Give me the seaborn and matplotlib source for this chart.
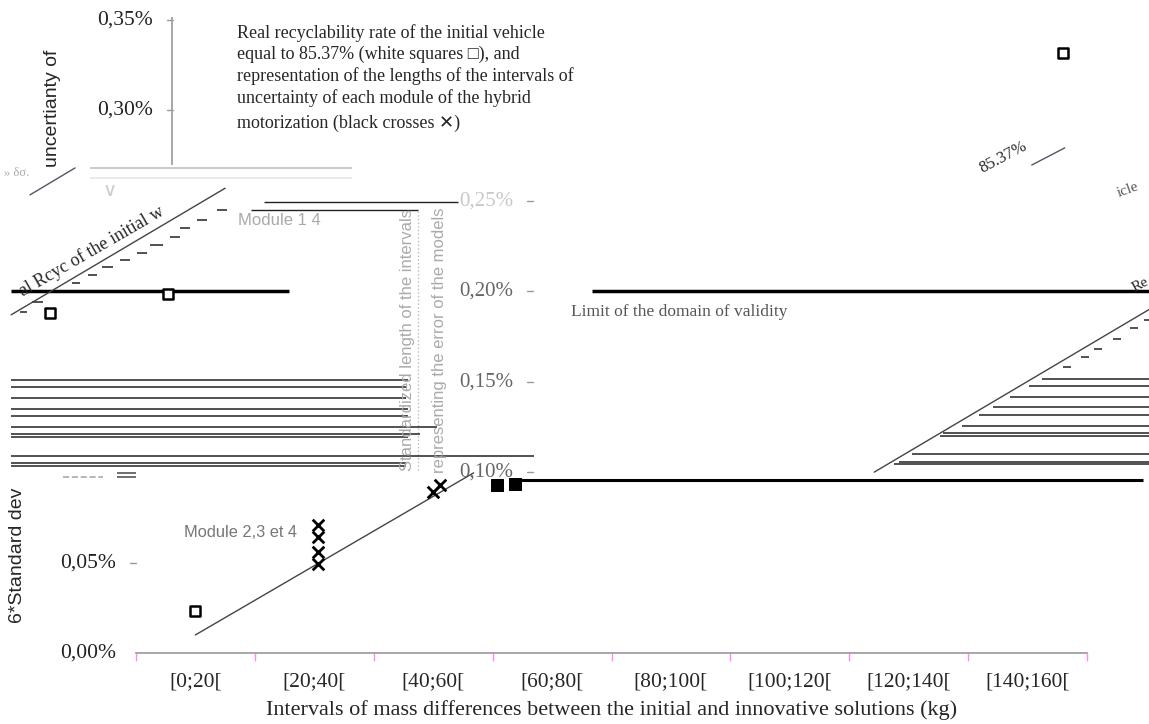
import numpy as np
import pandas as pd
import matplotlib
matplotlib.use("Agg")
import matplotlib.pyplot as plt
import seaborn as sns
from matplotlib.transforms import blended_transform_factory

sns.set_theme(style="white")
plt.rcParams['font.family'] = ['Liberation Serif', 'DejaVu Sans']

# ---- data (y in %) ----
categories = ["[0;20[", "[20;40[", "[40;60[", "[60;80[", "[80;100[",
              "[100;120[", "[120;140[", "[140;160["]
y_ticks = [0.00, 0.05, 0.10, 0.15, 0.20, 0.25, 0.30, 0.35]
y_tick_labels = ["0,00%", "0,05%", "0,10%", "0,15%", "0,20%", "0,25%", "0,30%", "0,35%"]

# white squares (real recyclability 85.37%)
square_x = [0.0, 7.3, -1.22, -0.23]
square_y = [0.0232, 0.332, 0.188, 0.1985]

# black crosses (modules)
cross_x = [1.03, 1.03, 1.03, 1.03, 2.0, 2.06]
cross_y = [0.071, 0.064, 0.056, 0.049, 0.089, 0.093]

# black squares near 0.10%
black_sq_x = [2.54, 2.69]
black_sq_y = [0.0929, 0.0934]

# trend line and the two displaced copies of it
trend_x = [0.0, 2.34]
trend_y = [0.010, 0.0996]
left_diag_x = [-1.55, 0.25]
left_diag_y = [0.187, 0.257]
right_diag_x = [5.71, 8.05]
right_diag_y = [0.100, 0.191]

# limit of the domain of validity
limit_hi = 0.200
limit_lo = 0.0957

# hatch lines of the left block
left_hatch_y = [0.1509, 0.1471, 0.1410, 0.1349, 0.1310, 0.1250, 0.1211, 0.1194, 0.1089, 0.1051, 0.1034]
left_hatch_end = [1.787, 1.770, 1.770, 1.787, 1.787, 2.031, 1.888, 1.787, 2.847, 1.770, 1.770]
# hatch lines of the right block
right_hatch_y = [0.1515, 0.1476, 0.1416, 0.1360, 0.1316, 0.1255, 0.1216, 0.1200, 0.1100, 0.1056, 0.1045]
right_hatch_start = [7.119, 7.010, 6.850, 6.707, 6.590, 6.447, 6.287, 6.262, 6.026, 5.917, 5.875]

# short dashes along the diagonals
left_dash_x0 = [-1.476, -1.375, -1.039, -0.904, -0.786, -0.635, -0.492, -0.383, -0.215, -0.130, 0.013, 0.181]
left_dash_x1 = [-1.417, -1.283, -0.971, -0.828, -0.694, -0.551, -0.408, -0.273, -0.130, -0.046, 0.097, 0.265]
left_dash_y = [0.1886, 0.1941, 0.2046, 0.2090, 0.2134, 0.2173, 0.2212, 0.2256, 0.2300, 0.2350, 0.2394, 0.2449]
right_dash_x0 = [7.296, 7.447, 7.557, 7.717, 7.860, 7.977]
right_dash_x1 = [7.363, 7.514, 7.624, 7.784, 7.927, 8.05]
right_dash_y = [0.1581, 0.1637, 0.1681, 0.1736, 0.1797, 0.1841]

note = ("Real recyclability rate of the initial vehicle\n"
        "equal to 85.37% (white squares \u25a1), and\n"
        "representation of the lengths of the intervals of\n"
        "uncertainty of each module of the hybrid")
note_last = "motorization (black crosses \u2715)"

# ---- figure ----
fig = plt.figure(figsize=(11.49, 7.24), dpi=100)
ax = fig.add_axes([136 / 1149, 71 / 724, 951 / 1149, 633 / 724])
ax.set_xlim(-0.5, 7.5)
ax.set_ylim(0, 0.35)

for s in ["left", "right", "top"]:
    ax.spines[s].set_visible(False)
ax.spines["bottom"].set_color("#a0a0a0")
ax.spines["bottom"].set_linewidth(1.3)

ax.set_xticks(range(len(categories)))
ax.set_xticklabels(categories, fontsize=15.5)
ax.tick_params(axis="x", which="major", length=0, pad=14)
ax.set_xticks(np.arange(-0.5, 8, 1), minor=True)
ax.tick_params(axis="x", which="minor", length=6, color="#ff88ff", width=1, bottom=True)
ax.set_yticks([])
ax.set_xlabel("Intervals of mass differences between the initial and innovative solutions (kg)",
              fontsize=16, labelpad=6)

tr = blended_transform_factory(ax.transAxes, ax.transData)

# y tick labels, split in three displaced groups
groups = {0: (-0.021, -0.0063, "#222"), 1: (-0.021, -0.0063, "#222"),
          2: (0.3964, 0.411, "#666"), 3: (0.3964, 0.411, "#666"),
          4: (0.3964, 0.411, "#666"), 5: (0.3964, 0.411, "#c8c8c8"),
          6: (0.018, 0.0326, "#222"), 7: (0.018, 0.0326, "#222")}
for i, (v, lab) in enumerate(zip(y_ticks, y_tick_labels)):
    xl, xt, c = groups[i]
    fs = 15.5 if c == "#222" else 15
    ax.text(xl, v, lab, transform=tr, ha="right", va="center", fontsize=fs, color=c, clip_on=False)
    if i > 0:
        ax.plot([xt, xt + 0.0065], [v, v], transform=tr, color="#999", lw=1, clip_on=False)

# upper-left axis fragment
ax.vlines(-0.198, 0.2698, 0.3514, color="#a0a0a0", lw=1.3, clip_on=False)
ax.hlines(0.2682, -0.887, 1.316, color="#c0c0c0", lw=1.2, clip_on=False)
ax.hlines(0.2627, -0.887, 1.316, color="#e6e6e6", lw=1.2, clip_on=False)
ax.hlines(0.2494, 0.576, 2.21, color="#222", lw=1.0, clip_on=False)
ax.hlines(0.2449, 0.467, 1.87, color="#222", lw=1.0, clip_on=False)
ax.vlines(1.87, 0.1012, 0.2449, color="#bbbbbb", lw=1.0, linestyles=":", clip_on=False)

# domain of validity limits
ax.hlines(limit_hi, -1.55, 0.786, color="black", lw=2.5, clip_on=False)
ax.hlines(limit_hi, 3.335, 8.05, color="black", lw=2.5, clip_on=False)
ax.hlines(limit_lo, 2.67, 7.97, color="black", lw=2.2, clip_on=False)

# hatching
ax.hlines(left_hatch_y, -1.55, left_hatch_end, color="#333", lw=1.2, clip_on=False)
ax.hlines(right_hatch_y, right_hatch_start, 8.05, color="#333", lw=1.2, clip_on=False)
ax.hlines(left_dash_y, left_dash_x0, left_dash_x1, color="#333", lw=1.2, clip_on=False)
ax.hlines(right_dash_y, right_dash_x0, right_dash_x1, color="#333", lw=1.2, clip_on=False)
ax.hlines([0.0995, 0.0973], -0.66, -0.50, color="#555", lw=1.2, clip_on=False)
ax.hlines(0.0973, -1.11, -0.78, color="#aaa", lw=1.2, linestyles="--", clip_on=False)

# trend lines
sns.lineplot(x=trend_x, y=trend_y, ax=ax, color="#444", lw=1, sort=False, clip_on=False)
sns.lineplot(x=left_diag_x, y=left_diag_y, ax=ax, color="#444", lw=1, sort=False, clip_on=False)
sns.lineplot(x=right_diag_x, y=right_diag_y, ax=ax, color="#444", lw=1, sort=False, clip_on=False)
sns.lineplot(x=[-1.392, -1.013], y=[0.2533, 0.2682], ax=ax, color="#556", lw=1, clip_on=False)
sns.lineplot(x=[7.035, 7.313], y=[0.2698, 0.2793], ax=ax, color="#556", lw=1, clip_on=False)

# markers
sns.scatterplot(x=square_x, y=square_y, ax=ax, marker="s", s=55, color="white",
                edgecolor="black", linewidth=1.8, clip_on=False, zorder=5)
sns.scatterplot(x=cross_x, y=cross_y, ax=ax, marker="x", s=70, color="black",
                linewidth=2, clip_on=False, zorder=5)
sns.scatterplot(x=black_sq_x, y=black_sq_y, ax=ax, marker="s", s=80, color="black",
                edgecolor="black", clip_on=False, zorder=5)

# texts
ax.text(0.349, 0.3475, note, fontsize=13, va="top", ha="left", linespacing=1.28)
ax.text(0.349, 0.293, note_last, fontsize=13, va="center", ha="left")
ax.text(-0.088, 0.2687, "uncertianty of", transform=tr, rotation=90, ha="center", va="bottom",
        fontsize=14, family=["Liberation Sans"], clip_on=False)
ax.text(-0.125, 0.0166, "6*Standard dev", transform=tr, rotation=90, ha="center", va="bottom",
        fontsize=14, family=["Liberation Sans"], clip_on=False)
ax.text(-1.50, 0.2655, "\u00bb \u03b4\u03c3.", ha="center", va="center", fontsize=9,
        color="#aaa", clip_on=False)
ax.text(-0.72, 0.2555, "\u2228", ha="center", va="center", fontsize=14, color="#ccc",
        family=["DejaVu Sans"], clip_on=False)
ax.text(0.854, 0.0669, "Module 2,3 et 4", ha="right", va="center", fontsize=11.8,
        color="#777", family=["Liberation Sans"])
ax.text(0.357, 0.2394, "Module 1 4", ha="left", va="center", fontsize=12,
        color="#aaa", family=["Liberation Sans"])
ax.text(3.158, 0.1886, "Limit of the domain of validity", ha="left", va="center", fontsize=12.5,
        color="#555")
ax.text(1.787, 0.173, "Standardized length of the intervals", rotation=90, ha="center",
        va="center", fontsize=12, color="#aaa", family=["Liberation Sans"])
ax.text(2.056, 0.173, "representing the error of the models", rotation=90, ha="center",
        va="center", fontsize=12, color="#aaa", family=["Liberation Sans"])
ax.text(-0.87, 0.2223, "al Rcyc of the initial w", rotation=30, ha="center", va="center",
        fontsize=13, rotation_mode="anchor", clip_on=False)
ax.text(6.80, 0.2742, "85.37%", rotation=28, ha="center", va="center", fontsize=12,
        rotation_mode="anchor")
ax.text(7.84, 0.256, "icle", rotation=20, ha="center", va="center", fontsize=11,
        color="#555", rotation_mode="anchor", clip_on=False)
ax.text(7.95, 0.2035, "Re", rotation=28, ha="center", va="center", fontsize=11,
        rotation_mode="anchor", clip_on=False)

fig.savefig("out.png", dpi=100)
